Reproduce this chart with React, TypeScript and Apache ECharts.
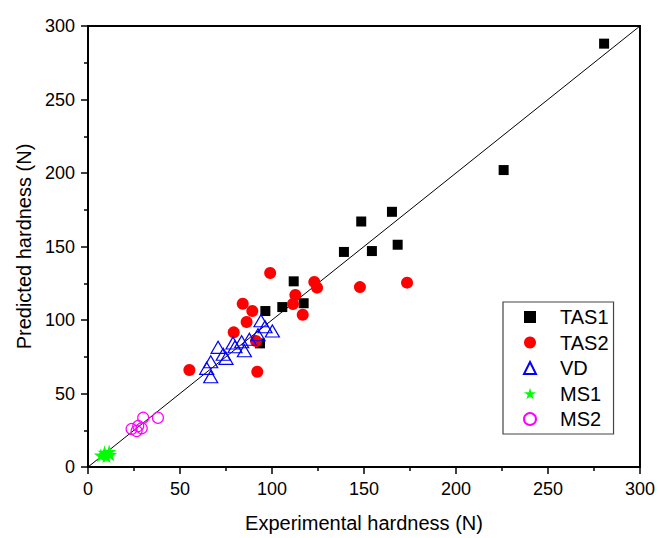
import React, { useEffect, useRef } from "react";
import * as echarts from "echarts";

const xTicks = [0, 50, 100, 150, 200, 250, 300];
const seriesNames = ["TAS1", "TAS2", "VD", "MS1", "MS2"];

const tas1: number[][] = [
  [280.5, 288], [225.9, 202], [148.5, 167], [165.2, 173.6], [139.1, 146.3],
  [154.3, 146.9], [168.3, 151.2], [111.8, 126.3], [117.2, 111.4], [105.6, 108.8],
  [96.4, 106.1], [93.5, 84.1],
];
const tas2: number[][] = [
  [99, 132], [123, 125.9], [124.5, 122], [147.8, 122.4], [173.4, 125.4],
  [112.7, 117], [111.4, 110.9], [84.1, 111.1], [89.3, 106.1], [116.7, 103.6],
  [86.2, 98.6], [79.2, 91.6], [91.3, 85.7], [55.1, 66], [92, 64.8],
];
const vd: number[][] = [
  [94, 99.5], [96.2, 95.4], [100.2, 92.5], [87.7, 86.9], [83.5, 85.2],
  [79.9, 81.8], [85, 79.1], [70.7, 81.4], [73.5, 76.7], [75, 73.9],
  [66.7, 71.6], [64.5, 67.1], [66.7, 61.4], [78.8, 84.4], [92.4, 90],
];
const ms1: number[][] = [[7, 8], [9, 10], [10, 7.5], [11.5, 10.5], [12, 8.5]];
const ms2: number[][] = [
  [23.7, 25.9], [26.4, 24.5], [27.3, 27.9], [30, 33.5], [38, 33.5], [29.2, 26.3],
];
const identityLine: number[][] = [[0, 0], [300, 300]];

const STAR =
  "path://M50,0 L61,35 L98,35 L68,57 L79,91 L50,70 L21,91 L32,57 L2,35 L39,35 Z";
const FONT = "Liberation Sans, Arial, sans-serif";

export default function App() {
  const ref = useRef<HTMLDivElement>(null);
  useEffect(() => {
    if (!ref.current) return;
    const chart = echarts.init(ref.current, undefined, { renderer: "svg" });
    const axisCommon = {
      type: "value" as const,
      min: xTicks[0],
      max: xTicks[xTicks.length - 1],
      interval: 50,
      nameLocation: "middle" as const,
      nameTextStyle: { fontSize: 20, color: "#000", fontFamily: FONT },
      axisLine: { show: true, onZero: false, lineStyle: { color: "#000", width: 2 } },
      axisTick: { show: true, inside: false, length: 7, lineStyle: { color: "#000", width: 1.5 } },
      minorTick: { show: true, splitNumber: 2, length: 4, lineStyle: { color: "#000", width: 1.5 } },
      splitLine: { show: false },
      axisLabel: { fontSize: 18, color: "#000", fontFamily: FONT, margin: 13 },
    };
    chart.setOption({
      animation: false,
      backgroundColor: "#fff",
      textStyle: { fontFamily: FONT },
      grid: {
        left: 88, right: 18, top: 26, bottom: 71,
        show: true, borderColor: "#000", borderWidth: 2,
      },
      xAxis: { ...axisCommon, name: "Experimental hardness (N)", nameGap: 46 },
      yAxis: { ...axisCommon, name: "Predicted hardness (N)", nameGap: 50 },
      legend: {
        data: seriesNames,
        orient: "vertical",
        left: 503,
        top: 302,
        padding: [5, 5, 5, 20],
        itemGap: 5.5,
        itemWidth: 12,
        itemHeight: 12,
        borderColor: "#444",
        borderWidth: 1.2,
        backgroundColor: "#fff",
        textStyle: { fontSize: 20, color: "#000", fontFamily: FONT, padding: [0, 0, 0, 19] },
      },
      series: [
        {
          type: "line", data: identityLine, showSymbol: false, symbol: "none",
          lineStyle: { color: "#000", width: 1 }, silent: true, z: 1,
        },
        {
          name: "TAS1", type: "scatter", data: tas1, symbol: "rect", symbolSize: 10,
          itemStyle: { color: "#000", opacity: 1 },
        },
        {
          name: "TAS2", type: "scatter", data: tas2, symbol: "circle", symbolSize: 12,
          itemStyle: { color: "#ff0000", opacity: 1 },
        },
        {
          name: "VD", type: "scatter", data: vd, symbol: "triangle", symbolSize: [14, 12],
          itemStyle: { color: "rgba(255,255,255,0)", borderColor: "#0000ff", borderWidth: 1.2, opacity: 1 },
        },
        {
          name: "MS1", type: "scatter", data: ms1, symbol: STAR, symbolSize: 14,
          itemStyle: { color: "#00ff00", opacity: 1 },
        },
        {
          name: "MS2", type: "scatter", data: ms2, symbol: "circle", symbolSize: 11,
          itemStyle: { color: "rgba(255,255,255,0)", borderColor: "#ff00ff", borderWidth: 1.2, opacity: 1 },
        },
      ],
    });
    return () => chart.dispose();
  }, []);
  return (
    <div
      ref={ref}
      style={{ position: "fixed", left: 0, top: 0, width: 658, height: 538, background: "#fff" }}
    />
  );
}
